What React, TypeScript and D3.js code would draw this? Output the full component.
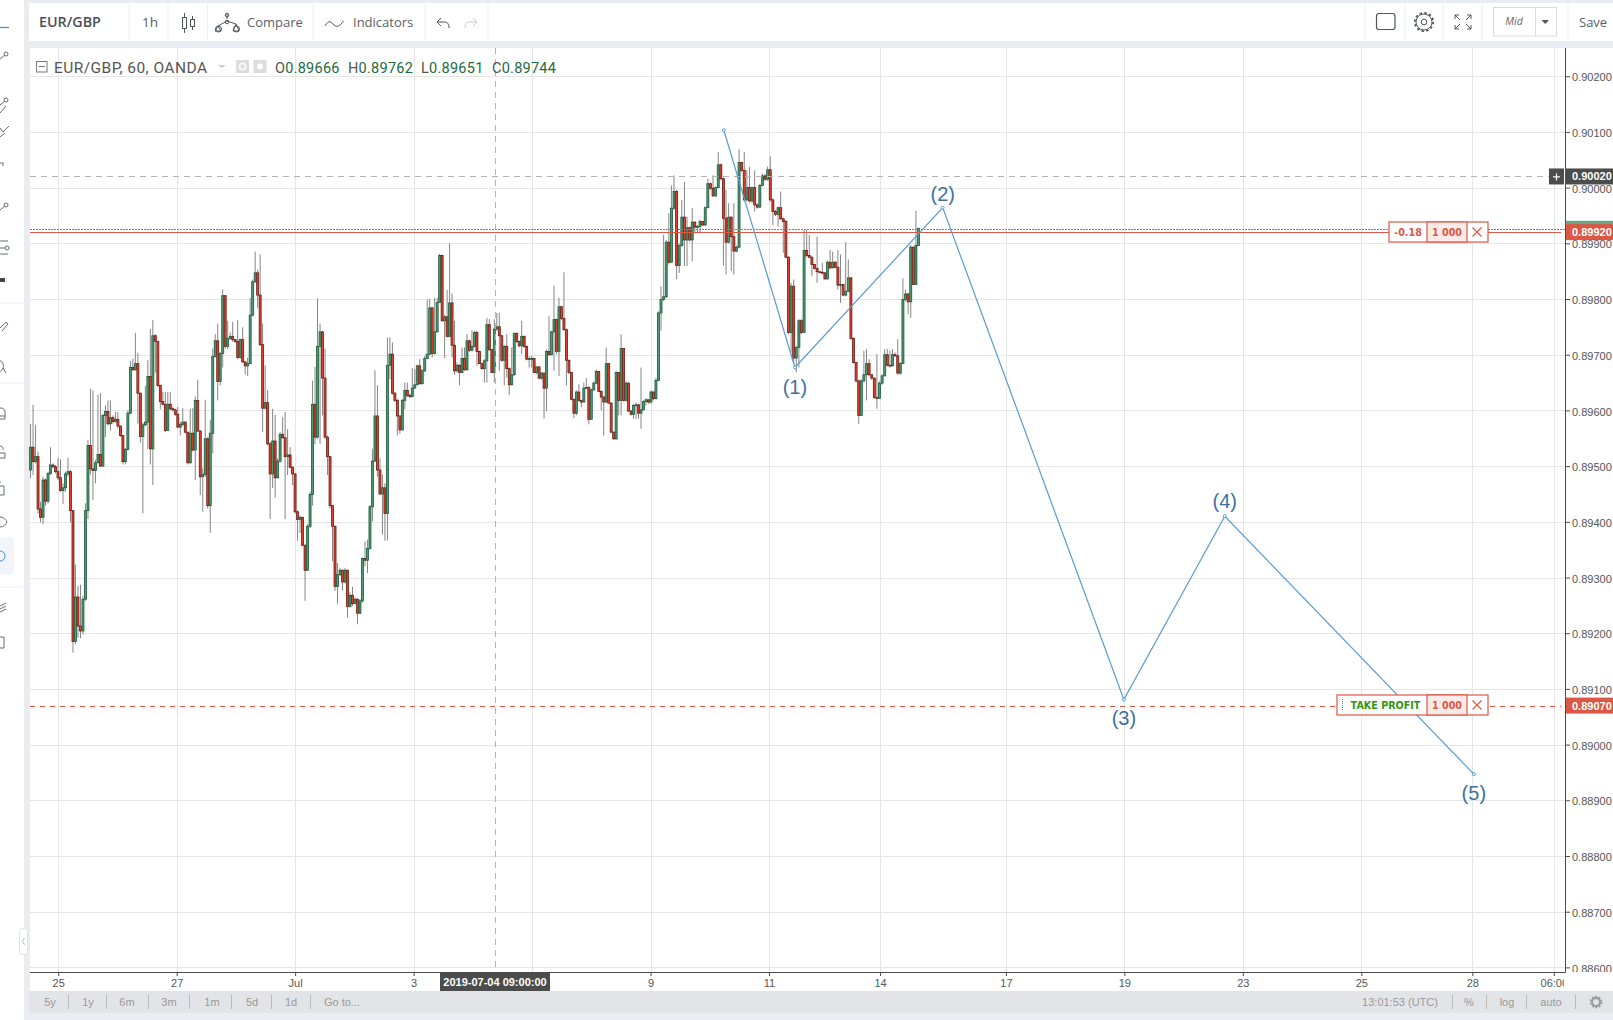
import React, { useEffect, useRef } from "react";
import * as d3 from "d3";

// prices are kept as points (price x 100000)
const firstOpen = 89493;

const closes = [
  89534, 89508, 89517, 89423, 89408, 89475, 89437, 89487, 89502, 89499, 89490, 89479, 89456, 89461, 89486, 89490, 89420, 89185, 89265, 89213,
  89204, 89261, 89420, 89537, 89495, 89492, 89506, 89521, 89500, 89591, 89598, 89576, 89587, 89580, 89584, 89572, 89555, 89508, 89530, 89595,
  89677, 89673, 89684, 89631, 89553, 89574, 89579, 89661, 89531, 89734, 89724, 89645, 89616, 89611, 89564, 89611, 89603, 89601, 89593, 89570,
  89575, 89579, 89561, 89506, 89559, 89529, 89618, 89563, 89481, 89485, 89549, 89429, 89559, 89697, 89725, 89652, 89702, 89806, 89715, 89729,
  89733, 89727, 89724, 89695, 89727, 89687, 89680, 89684, 89771, 89831, 89847, 89807, 89718, 89604, 89614, 89540, 89486, 89545, 89479, 89509,
  89557, 89551, 89517, 89520, 89498, 89486, 89418, 89404, 89408, 89358, 89313, 89392, 89449, 89611, 89552, 89715, 89741, 89658, 89552, 89517,
  89429, 89392, 89284, 89305, 89313, 89292, 89313, 89248, 89268, 89253, 89261, 89236, 89258, 89334, 89331, 89352, 89427, 89509, 89590, 89493,
  89450, 89461, 89415, 89681, 89701, 89631, 89618, 89590, 89565, 89618, 89636, 89627, 89625, 89640, 89646, 89680, 89648, 89671, 89693, 89701,
  89784, 89702, 89741, 89794, 89878, 89761, 89768, 89733, 89793, 89717, 89671, 89681, 89668, 89693, 89673, 89725, 89708, 89715, 89740, 89706,
  89684, 89675, 89689, 89754, 89709, 89668, 89746, 89750, 89734, 89690, 89715, 89675, 89646, 89664, 89738, 89724, 89716, 89733, 89715, 89692,
  89693, 89693, 89668, 89678, 89658, 89667, 89640, 89706, 89700, 89741, 89763, 89706, 89786, 89765, 89745, 89690, 89668, 89620, 89595, 89633,
  89618, 89615, 89640, 89641, 89584, 89637, 89649, 89670, 89634, 89624, 89615, 89684, 89613, 89561, 89549, 89668, 89618, 89711, 89618, 89649,
  89599, 89593, 89609, 89610, 89595, 89601, 89616, 89619, 89615, 89633, 89621, 89654, 89775, 89799, 89804, 89902, 89866, 89963, 89993, 89860,
  89896, 89947, 89906, 89928, 89906, 89938, 89929, 89930, 89939, 89933, 89964, 90007, 89999, 89985, 90000, 90041, 90016, 89945, 89902, 89947,
  89912, 89886, 89893, 90045, 90031, 89978, 90000, 89976, 90000, 89969, 89965, 90004, 90021, 90015, 90032, 89978, 89957, 89952, 89964, 89944,
  89939, 89875, 89740, 89823, 89694, 89713, 89761, 89740, 89887, 89878, 89875, 89862, 89855, 89849, 89848, 89847, 89836, 89866, 89856, 89866,
  89857, 89825, 89826, 89807, 89814, 89838, 89729, 89686, 89653, 89591, 89653, 89664, 89684, 89664, 89658, 89623, 89622, 89649, 89662, 89700,
  89681, 89680, 89700, 89698, 89667, 89684, 89799, 89809, 89795, 89893, 89826, 89896, 89927,
];

const highs = [
  89576, 89610, 89574, 89526, 89436, 89481, 89478, 89490, 89534, 89505, 89502, 89514, 89512, 89469, 89490, 89515, 89493, 89421, 89323, 89285,
  89287, 89267, 89433, 89547, 89639, 89636, 89511, 89628, 89631, 89594, 89609, 89618, 89618, 89591, 89597, 89597, 89573, 89556, 89533, 89600,
  89689, 89693, 89739, 89703, 89631, 89578, 89644, 89690, 89746, 89762, 89737, 89698, 89646, 89633, 89633, 89633, 89633, 89606, 89603, 89606,
  89579, 89604, 89580, 89561, 89603, 89604, 89625, 89655, 89564, 89496, 89619, 89552, 89583, 89711, 89737, 89756, 89705, 89817, 89806, 89761,
  89740, 89759, 89728, 89762, 89729, 89749, 89689, 89695, 89802, 89835, 89885, 89853, 89880, 89756, 89681, 89637, 89543, 89603, 89592, 89514,
  89561, 89588, 89597, 89566, 89534, 89499, 89487, 89420, 89411, 89409, 89359, 89396, 89454, 89653, 89678, 89801, 89756, 89743, 89711, 89555,
  89517, 89430, 89393, 89326, 89317, 89314, 89317, 89314, 89273, 89283, 89264, 89262, 89261, 89336, 89365, 89368, 89430, 89531, 89672, 89645,
  89514, 89485, 89469, 89731, 89731, 89722, 89633, 89621, 89591, 89621, 89650, 89650, 89630, 89676, 89674, 89682, 89692, 89674, 89698, 89799,
  89800, 89786, 89802, 89802, 89881, 89880, 89772, 89816, 89900, 89810, 89761, 89686, 89683, 89713, 89713, 89737, 89727, 89744, 89743, 89743,
  89707, 89686, 89692, 89766, 89764, 89710, 89764, 89775, 89775, 89735, 89717, 89737, 89677, 89713, 89740, 89740, 89725, 89761, 89734, 89716,
  89697, 89698, 89695, 89680, 89680, 89669, 89668, 89709, 89769, 89743, 89824, 89765, 89802, 89788, 89848, 89747, 89691, 89669, 89621, 89636,
  89647, 89619, 89650, 89658, 89643, 89639, 89652, 89674, 89671, 89636, 89625, 89713, 89685, 89615, 89562, 89671, 89669, 89737, 89712, 89652,
  89650, 89600, 89612, 89614, 89611, 89677, 89618, 89622, 89620, 89636, 89634, 89658, 89778, 89823, 89915, 89906, 89954, 90004, 90022, 89996,
  89900, 89978, 90010, 89948, 89930, 89963, 89939, 89933, 89942, 89940, 89966, 90016, 90009, 90022, 90002, 90064, 90043, 90018, 89996, 89972,
  89948, 89972, 89896, 90069, 90046, 90064, 90031, 90037, 90002, 90031, 89972, 90007, 90025, 90024, 90038, 90056, 89981, 89960, 89966, 89993,
  89946, 89942, 89877, 89829, 89835, 89716, 89764, 89764, 89924, 89924, 89915, 89877, 89863, 89912, 89850, 89865, 89848, 89869, 89888, 89885,
  89868, 89888, 89880, 89827, 89902, 89871, 89839, 89731, 89687, 89655, 89656, 89707, 89710, 89692, 89665, 89659, 89701, 89652, 89665, 89710,
  89710, 89707, 89710, 89704, 89728, 89687, 89837, 89817, 89811, 89897, 89894, 89958, 89927,
];

const lows = [
  89478, 89484, 89505, 89415, 89399, 89396, 89429, 89433, 89484, 89496, 89487, 89475, 89454, 89432, 89454, 89481, 89399, 89165, 89180, 89192,
  89191, 89198, 89258, 89405, 89485, 89439, 89469, 89505, 89499, 89499, 89552, 89573, 89564, 89576, 89578, 89568, 89552, 89503, 89503, 89528,
  89594, 89671, 89671, 89576, 89542, 89415, 89572, 89531, 89503, 89466, 89668, 89642, 89602, 89609, 89561, 89563, 89600, 89598, 89590, 89568,
  89555, 89572, 89558, 89503, 89504, 89526, 89475, 89561, 89448, 89418, 89481, 89424, 89380, 89523, 89695, 89618, 89645, 89677, 89711, 89710,
  89727, 89723, 89721, 89692, 89693, 89685, 89665, 89662, 89683, 89769, 89829, 89784, 89716, 89561, 89602, 89537, 89405, 89461, 89443, 89478,
  89506, 89549, 89405, 89484, 89496, 89466, 89415, 89366, 89380, 89356, 89258, 89338, 89389, 89429, 89539, 89549, 89540, 89591, 89549, 89484,
  89424, 89329, 89276, 89253, 89302, 89277, 89289, 89228, 89246, 89249, 89252, 89216, 89234, 89255, 89320, 89308, 89350, 89401, 89508, 89481,
  89448, 89377, 89366, 89366, 89656, 89628, 89615, 89555, 89558, 89564, 89602, 89624, 89622, 89623, 89639, 89645, 89646, 89646, 89669, 89692,
  89699, 89695, 89700, 89740, 89793, 89759, 89694, 89731, 89731, 89695, 89664, 89668, 89645, 89667, 89671, 89671, 89705, 89706, 89713, 89680,
  89683, 89673, 89650, 89650, 89707, 89667, 89650, 89743, 89671, 89687, 89645, 89659, 89628, 89645, 89662, 89721, 89713, 89701, 89712, 89690,
  89677, 89677, 89667, 89665, 89656, 89655, 89585, 89598, 89698, 89699, 89671, 89701, 89662, 89762, 89743, 89645, 89665, 89618, 89586, 89591,
  89616, 89606, 89614, 89639, 89575, 89609, 89635, 89647, 89633, 89600, 89555, 89614, 89612, 89560, 89547, 89547, 89591, 89591, 89616, 89616,
  89597, 89591, 89585, 89585, 89585, 89567, 89600, 89609, 89612, 89612, 89618, 89620, 89652, 89743, 89796, 89802, 89862, 89865, 89960, 89836,
  89847, 89894, 89859, 89859, 89903, 89868, 89918, 89918, 89918, 89931, 89931, 89963, 89996, 89984, 89984, 89999, 90013, 89860, 89844, 89900,
  89850, 89844, 89884, 89891, 90028, 89975, 89975, 89973, 89972, 89957, 89962, 89963, 90002, 90012, 90012, 89975, 89933, 89949, 89930, 89942,
  89883, 89874, 89737, 89704, 89683, 89668, 89677, 89737, 89740, 89875, 89873, 89841, 89853, 89829, 89846, 89844, 89835, 89835, 89854, 89855,
  89855, 89817, 89793, 89805, 89805, 89812, 89727, 89684, 89650, 89576, 89597, 89650, 89618, 89661, 89655, 89621, 89603, 89621, 89646, 89661,
  89679, 89677, 89679, 89696, 89664, 89664, 89683, 89796, 89772, 89766, 89825, 89825, 89896,
];

const opens = [firstOpen, ...closes.slice(0, -1)];

const priceTicks = [90200, 90100, 90000, 89900, 89800, 89700, 89600, 89500, 89400, 89300, 89200, 89100, 89000, 88900, 88800, 88700, 88600];

// slot = one hour on the (weekend-less) time axis, 0 is midnight on the 25th
const timeSlots = [0, 48, 96, 144, 192, 240, 288, 333, 384, 432, 480, 528, 573, 606];
// the label on slot 192 sits under the crosshair date tag, so it is blank here
const timeLabels = ["25", "27", "Jul", "3", "", "9", "11", "14", "17", "19", "23", "25", "28", "06:00"];

const waveSlots = [269.7, 298.5, 358.4, 431.8, 472.7, 573.6];
const wavePrices = [90103, 89677, 89964, 89081, 89410, 88947];
const waveLabels = ["", "(1)", "(2)", "(3)", "(4)", "(5)"];
const waveLabelOffsets = [0, 26, -7, 26, -8, 26];

const crosshairSlot = 177;
const crosshairPrice = 90020;
const entryPrice = 89920;
const bidLinePrice = 89926;
const takeProfitPrice = 89070;

const rangeButtons = ["5y", "1y", "6m", "3m", "1m", "5d", "1d", "Go to..."];
const rangeCentres = [50, 88, 127, 169, 212, 252, 291, 342];
const rangeDividers = [68, 106, 148, 189, 231, 271, 310];

const sidebarIconsY = [55, 101, 131, 165, 206, 247, 280, 324, 365, 414, 451, 489, 522, 556, 607, 643];

const W = 1613;
const H = 1020;
const plot = { left: 30, right: 1565, top: 48, bottom: 972 };
const armFont = "'Liberation Sans', Arial, sans-serif";
const uiFont = "'Open Sans', 'Noto Sans', sans-serif";
const legendFont = "Roboto, 'Noto Sans', sans-serif";
const red = "#dc5745";

const TradeTag = ({ x, y, h, left, label, labelColor }: any) => (
  <g fontFamily="'DejaVu Sans', sans-serif" fontSize="9.6" fontWeight="700" textAnchor="middle">
    <rect x={x} y={y} width={1488 - x} height={h} fill="#fff" stroke={red} strokeWidth="1.2" />
    <rect x={1427} y={y} width={40} height={h} fill="#fbeae8" stroke={red} strokeWidth="1.2" />
    <text x={left} y={y + 14} fill={labelColor}>{label}</text>
    <text x={1447} y={y + 14} fill={red}>1 000</text>
    <path d={`M1472.5 ${y + 5.5}l9 9m0 -9l-9 9`} stroke={red} strokeWidth="1.2" fill="none" />
  </g>
);

const Toolbar = () => (
  <g>
    <rect x={29} y={3} width={W - 29} height={38} fill="#fff" />
    {[129, 168, 207.5, 313, 425, 488, 1365, 1405, 1443, 1482, 1568].map((d) => (
      <line key={d} x1={d} x2={d} y1={3} y2={41} stroke="#eef0f3" />
    ))}
    <g fontFamily={uiFont} fontSize="13" fill="#5a6068">
      <text x={39} y={27} fontSize="14.3" fontWeight="600" fill="#4a4f55">EUR/GBP</text>
      <text x={142} y={27} fontSize="13.5">1h</text>
      <text x={247} y={27}>Compare</text>
      <text x={353} y={27}>Indicators</text>
      <text x={1579} y={27}>Save</text>
    </g>
    <g fill="none" stroke="#50565e" strokeWidth="1">
      {/* candle type */}
      <path d="M184.5 13v20M192.500 16v14" />
      <rect x={182.500} y={17.500} width={4} height={11} fill="#fff" />
      <rect x={190.500} y={19.500} width={4} height={7} fill="#fff" />
      {/* compare scales */}
      <path d="M227 13v6M218 26l9 -5 9 3M218 26l-3 5h6zM236 24l-3 7h6z" />
      <circle cx={227} cy={15} r={1.800} />
      <circle cx={227} cy={22} r={1.800} />
      <circle cx={218.500} cy={29} r={3} />
      <circle cx={236.500} cy={29} r={3} />
      {/* indicators */}
      <path d="M325 26c4 -7 6 -4 9 -1s6 1 9.500 -4" />
      {/* undo and redo */}
      <path d="M437 22l4 -4m-4 4l4 4m-4 -4h8c3 0 4 3 4 6" />
      <path d="M477 22l-4 -4m4 4l-4 4m4 -4h-8c-3 0 -4 3 -4 6" stroke="#c8ccd0" />
      {/* right hand side */}
      <rect x={1376.500} y={13.500} width={18.500} height={16} rx={2.500} strokeWidth="1.200" />
      <circle cx={1424} cy={22} r={2.800} />
      <circle cx={1424} cy={22} r={8} />
      <circle cx={1424} cy={22} r={9.200} strokeWidth="1.800" strokeDasharray="2.400 2.420" />
      <path d="M1455 15l5 5M1455 15h4M1455 15v4M1471 15l-5 5M1471 15h-4M1471 15v4M1455 29l5 -5M1455 29h4M1455 29v-4M1471 29l-5 -5M1471 29h-4M1471 29v-4" />
    </g>
    <rect x={1493.500} y={7.500} width={63} height={28.500} fill="#fff" stroke="#d8dbde" />
    <line x1={1535.500} x2={1535.500} y1={8} y2={36} stroke="#d8dbde" />
    <text x={1514} y={25} textAnchor="middle" fontFamily={uiFont} fontSize="10.500" fontStyle="italic" fill="#666">Mid</text>
    <path d="M1541.500 20h7.500l-3.750 4z" fill="#555" />
  </g>
);

const Sidebar = () => (
  <g fill="none" stroke="#666c74" strokeWidth="1">
    <rect x={0} y={537} width={14} height={38} rx={4} fill="#f1f4f8" stroke="none" />
    <line x1={0} x2={9} y1={27.500} y2={27.500} stroke="#3d8fd6" strokeWidth="1.200" />
    {[303, 383, 587].map((s) => (
      <line key={s} x1={0} x2={23} y1={s} y2={s} stroke="#eceef0" />
    ))}
    {sidebarIconsY.map((iy, i) => (
      <g key={iy} transform={`translate(0,${iy})`} stroke={i === 13 ? "#3d8fd6" : "#666c74"}>
        {i < 2 || i === 4 ? <path d="M0 4l5 -4" /> : null}
        {i < 2 || i === 4 ? <circle cx={6} cy={-1} r={2} /> : null}
        {i === 1 ? <path d="M0 12l6 -7" /> : null}
        {i === 2 ? <path d="M0 -3l3 4 6 -6M0 6l5 -4" /> : null}
        {i === 3 ? <path d="M0 -2h3v3" /> : null}
        {i === 5 ? <path d="M0 -6h8M0 7h8M0 1h5" /> : null}
        {i === 5 ? <circle cx={7} cy={1} r={2} /> : null}
        {i === 6 ? <path d="M0 0h5" strokeWidth="4" stroke="#444" /> : null}
        {i === 7 ? <path d="M0 4l6 -6 2 2 -6 7" /> : null}
        {i === 8 ? <path d="M-2 -5a6 6 0 1 1 -1 0M3 3l3 5" /> : null}
        {i === 9 ? <path d="M0 -6h1a4 4 0 0 1 4 5v6h-5M0 2h5" /> : null}
        {i === 10 ? <path d="M0 2h5v5h-5M0 -5a3 3 0 0 1 3 4" /> : null}
        {i === 11 ? <path d="M0 -3h4v9h-4M0 -7h1" /> : null}
        {i === 12 ? <path d="M0 -5c4 0 6 3 7 5c-1 2 -3 5 -7 5" /> : null}
        {i === 13 ? <path d="M0 -5a5 5 0 0 1 0 10" /> : null}
        {i === 14 ? <path d="M0 -1l6 -3M0 2l6 -3M0 5l6 -3" /> : null}
        {i === 15 ? <path d="M0 -6h4v11h-4" /> : null}
      </g>
    ))}
  </g>
);

const App = () => {
  const chartRef = useRef<SVGGElement | null>(null);

  useEffect(() => {
    if (!chartRef.current) return;
    const g = d3.select(chartRef.current);
    g.selectAll("*").remove();

    const x = d3.scaleLinear().domain([0, 606]).range([58.2, 1553.8]);
    const y = d3.scaleLinear().domain([88600, 90200]).range([967.4, 76.2]);
    // bar number to axis slot, bars were read on three separate crops
    const barSlot = d3.scaleLinear().domain([0, 143, 252, closes.length - 1]).range([-11.2, 133.4, 243.2, 348.6]);
    const barX = (i: number) => x(barSlot(i));
    const py = (p: number) => Math.round(y(p)) + 0.5;

    // grid
    const grid = g.append("g").attr("stroke", "#e6e6e6");
    grid
      .selectAll("line.h")
      .data(priceTicks)
      .enter()
      .append("line")
      .attr("class", "h")
      .attr("x1", plot.left)
      .attr("x2", plot.right)
      .attr("y1", (d) => py(d))
      .attr("y2", (d) => py(d));
    grid
      .selectAll("line.v")
      .data(timeSlots)
      .enter()
      .append("line")
      .attr("class", "v")
      .attr("x1", (d) => Math.round(x(d)) + 0.5)
      .attr("x2", (d) => Math.round(x(d)) + 0.5)
      .attr("y1", plot.top)
      .attr("y2", plot.bottom);

    // wicks first, bodies over them
    g.append("g")
      .attr("stroke", "#777")
      .attr("stroke-width", 0.9)
      .selectAll("line")
      .data(closes)
      .enter()
      .append("line")
      .attr("x1", (_, i) => barX(i))
      .attr("x2", (_, i) => barX(i))
      .attr("y1", (_, i) => y(highs[i]))
      .attr("y2", (_, i) => y(lows[i]));

    g.append("g")
      .selectAll("rect")
      .data(closes)
      .enter()
      .append("rect")
      .attr("x", (_, i) => barX(i) - 1)
      .attr("width", 2)
      .attr("y", (d, i) => Math.min(y(d), y(opens[i])))
      .attr("height", (d, i) => Math.max(0.8, Math.abs(y(d) - y(opens[i]))))
      .attr("fill", (d, i) => (d >= opens[i] ? "#4a9b72" : "#e2402f"))
      .attr("stroke", (d, i) => (d >= opens[i] ? "#1f5b3e" : "#6b1c12"))
      .attr("stroke-width", 0.8);

    // crosshair and order lines
    g.append("line")
      .attr("x1", Math.round(x(crosshairSlot)) + 0.5)
      .attr("x2", Math.round(x(crosshairSlot)) + 0.5)
      .attr("y1", plot.top)
      .attr("y2", plot.bottom)
      .attr("stroke", "#b4b4b4")
      .attr("stroke-dasharray", "6 5");
    g.append("line")
      .attr("x1", plot.left)
      .attr("x2", 1549)
      .attr("y1", py(crosshairPrice))
      .attr("y2", py(crosshairPrice))
      .attr("stroke", "#b4b4b4")
      .attr("stroke-dasharray", "6 5");
    g.append("line")
      .attr("x1", plot.left)
      .attr("x2", plot.right)
      .attr("y1", py(bidLinePrice))
      .attr("y2", py(bidLinePrice))
      .attr("stroke", "#4f9a72")
      .attr("stroke-dasharray", "2 1");
    g.append("line")
      .attr("x1", plot.left)
      .attr("x2", 1561)
      .attr("y1", py(entryPrice))
      .attr("y2", py(entryPrice))
      .attr("stroke", red);
    g.append("line")
      .attr("x1", plot.left)
      .attr("x2", 1561)
      .attr("y1", py(takeProfitPrice))
      .attr("y2", py(takeProfitPrice))
      .attr("stroke", red)
      .attr("stroke-dasharray", "5 5");

    // elliott wave drawing
    const line = d3
      .line<number>()
      .x((d) => x(d))
      .y((_, i) => y(wavePrices[i]));
    g.append("path")
      .attr("d", line(waveSlots))
      .attr("fill", "none")
      .attr("stroke", "#5b9bd5")
      .attr("stroke-width", 1.2);
    g.append("g")
      .selectAll("circle")
      .data(waveSlots)
      .enter()
      .append("circle")
      .attr("cx", (d) => x(d))
      .attr("cy", (_, i) => y(wavePrices[i]))
      .attr("r", 1.5)
      .attr("fill", "#fff")
      .attr("stroke", "#5b9bd5");
    g.append("g")
      .attr("text-anchor", "middle")
      .attr("font-family", armFont)
      .attr("font-size", 20)
      .attr("fill", "#3f719f")
      .selectAll("text")
      .data(waveSlots)
      .enter()
      .append("text")
      .attr("x", (d) => x(d))
      .attr("y", (_, i) => y(wavePrices[i]) + waveLabelOffsets[i])
      .text((_, i) => waveLabels[i]);

    // axes
    const yAxis = d3
      .axisRight(y)
      .tickValues(priceTicks)
      .tickSize(5)
      .tickPadding(2)
      .tickFormat((d) => d3.format(".5f")(+d / 100000));
    const yG = g
      .append("g")
      .attr("clip-path", "url(#priceClip)")
      .append("g")
      .attr("transform", `translate(${plot.right},0)`)
      .call(yAxis);
    yG.selectAll("text").attr("dy", "0.42em");
    const xAxis = d3
      .axisBottom(x)
      .tickValues(timeSlots)
      .tickSize(4)
      .tickPadding(3)
      .tickFormat((_, i) => timeLabels[i]);
    const xG = g
      .append("g")
      .attr("clip-path", "url(#timeClip)")
      .append("g")
      .attr("transform", `translate(0,${plot.bottom})`)
      .call(xAxis);
    [yG, xG].forEach((a) => {
      a.select(".domain").remove();
      a.selectAll("line").attr("stroke", "#4c4c4c");
      a.selectAll("text").attr("fill", "#555").attr("font-family", armFont).attr("font-size", 11);
    });
    g.append("path")
      .attr("d", `M${plot.left} ${plot.bottom + 0.5}H${plot.right + 0.5}V${plot.top}`)
      .attr("fill", "none")
      .attr("stroke", "#4c4c4c");

    // crosshair date tag
    g.append("rect").attr("x", 440).attr("y", 973).attr("width", 110).attr("height", 18).attr("fill", "#4c4c4c");
    g.append("text")
      .attr("x", 495)
      .attr("y", 986)
      .attr("text-anchor", "middle")
      .attr("font-family", armFont)
      .attr("font-size", 11)
      .attr("font-weight", 700)
      .attr("fill", "#fff")
      .text("2019-07-04 09:00:00");

    // price tags on the axis
    const tags = [
      { price: crosshairPrice, fill: "#4c4c4c" },
      { price: entryPrice, fill: red },
      { price: takeProfitPrice, fill: red },
    ];
    g.append("rect")
      .attr("x", plot.right + 1)
      .attr("y", y(bidLinePrice) - 8)
      .attr("width", W - plot.right)
      .attr("height", 8)
      .attr("fill", "#6aa584");
    g.append("g")
      .selectAll("rect")
      .data(tags)
      .enter()
      .append("rect")
      .attr("x", plot.right + 1)
      .attr("y", (d) => y(d.price) - 8)
      .attr("width", W - plot.right)
      .attr("height", 16)
      .attr("fill", (d) => d.fill);
    g.append("g")
      .attr("font-family", armFont)
      .attr("font-size", 11)
      .attr("font-weight", 700)
      .attr("fill", "#fff")
      .selectAll("text")
      .data(tags)
      .enter()
      .append("text")
      .attr("x", 1572)
      .attr("y", (d) => y(d.price) + 4)
      .text((d) => d3.format(".5f")(d.price / 100000));
    g.append("rect").attr("x", 1549).attr("y", y(crosshairPrice) - 8).attr("width", 15).attr("height", 16).attr("fill", "#4c4c4c");
    g.append("path")
      .attr("d", `M1553 ${y(crosshairPrice) + 0.5}h7m-3.500 -3.500v7`)
      .attr("stroke", "#fff")
      .attr("stroke-width", 1.2);
  }, []);

  return (
    <svg width={W} height={H} viewBox={`0 0 ${W} ${H}`} style={{ position: "fixed", left: 0, top: 0, display: "block" }}>
      <defs>
        <clipPath id="priceClip">
          <rect x={plot.right} y={plot.top} width={W - plot.right} height={plot.bottom - plot.top} />
        </clipPath>
        <clipPath id="timeClip">
          <rect x={plot.left} y={plot.bottom} width={plot.right - plot.left - 1} height={30} />
        </clipPath>
      </defs>
      <rect width={W} height={H} fill="#e9edf1" />
      <rect width={24} height={H} fill="#fff" />
      <Toolbar />
      <Sidebar />
      <rect x={plot.left} y={plot.top} width={W - plot.left} height={991 - plot.top} fill="#fff" />
      <g ref={chartRef} />

      {/* legend row */}
      <rect x={36.500} y={61.500} width={10.500} height={10.500} fill="#fff" stroke="#777" />
      <line x1={38.500} x2={45} y1={66.500} y2={66.500} stroke="#777" />
      <text x={54} y={73} fontFamily={legendFont} fontSize="15.500" letterSpacing="0.45" fill="#555">EUR/GBP, 60, OANDA</text>
      <path d="M218 65h8l-4 3z" fill="#ccc" />
      <rect x={236} y={60} width={13} height={13} fill="#ddd" />
      <circle cx={242.500} cy={66.500} r={3} fill="none" stroke="#fff" strokeWidth="1.500" />
      <rect x={253.500} y={60} width={13} height={13} fill="#ddd" />
      <circle cx={260} cy={66.500} r={3} fill="#fff" />
      <g fontFamily={legendFont} fontSize="14.500" letterSpacing="0.25" fill="#1e6b42">
        <text x={275} y={73}><tspan fill="#555">O</tspan>0.89666</text>
        <text x={348} y={73}><tspan fill="#555">H</tspan>0.89762</text>
        <text x={421} y={73}><tspan fill="#555">L</tspan>0.89651</text>
        <text x={492} y={73}><tspan fill="#555">C</tspan>0.89744</text>
      </g>

      {/* order widgets */}
      <TradeTag x={1389} y={222} h={20} left={1408} label="-0.18" labelColor={red} />
      <TradeTag x={1337} y={695} h={20} left={1385.500} label="TAKE PROFIT" labelColor="#2f960f" />
      <line x1={1342.500} x2={1342.500} y1={699} y2={711} stroke={red} strokeDasharray="1 1" />

      {/* bottom strip */}
      <rect x={29} y={991} width={W - 29} height={22} fill="#e3e4e7" />
      <g fontFamily={armFont} fontSize="11" fill="#999" textAnchor="middle">
        {rangeButtons.map((b, i) => (
          <text key={b} x={rangeCentres[i]} y={1006}>{b}</text>
        ))}
        <text x={1400} y={1006}>13:01:53 (UTC)</text>
        <text x={1469} y={1006}>%</text>
        <text x={1507} y={1006}>log</text>
        <text x={1551} y={1006}>auto</text>
      </g>
      {[...rangeDividers, 1452, 1486, 1526, 1575].map((d) => (
        <line key={d} x1={d + 0.5} x2={d + 0.5} y1={995} y2={1009} stroke="#bbb" />
      ))}
      <circle cx={1596} cy={1002} r={4} fill="none" stroke="#999" strokeWidth="2" />
      <circle cx={1596} cy={1002} r={5.500} fill="none" stroke="#999" strokeWidth="1.500" strokeDasharray="2 1.500" />

      {/* panel collapse handle */}
      <rect x={19.500} y={928.500} width={8} height={26} rx={3} fill="#fff" stroke="#dfe3e7" />
      <path d="M24.500 938l-2 3.500 2 3.500" fill="none" stroke="#a9b4bd" />
    </svg>
  );
};

export default App;
